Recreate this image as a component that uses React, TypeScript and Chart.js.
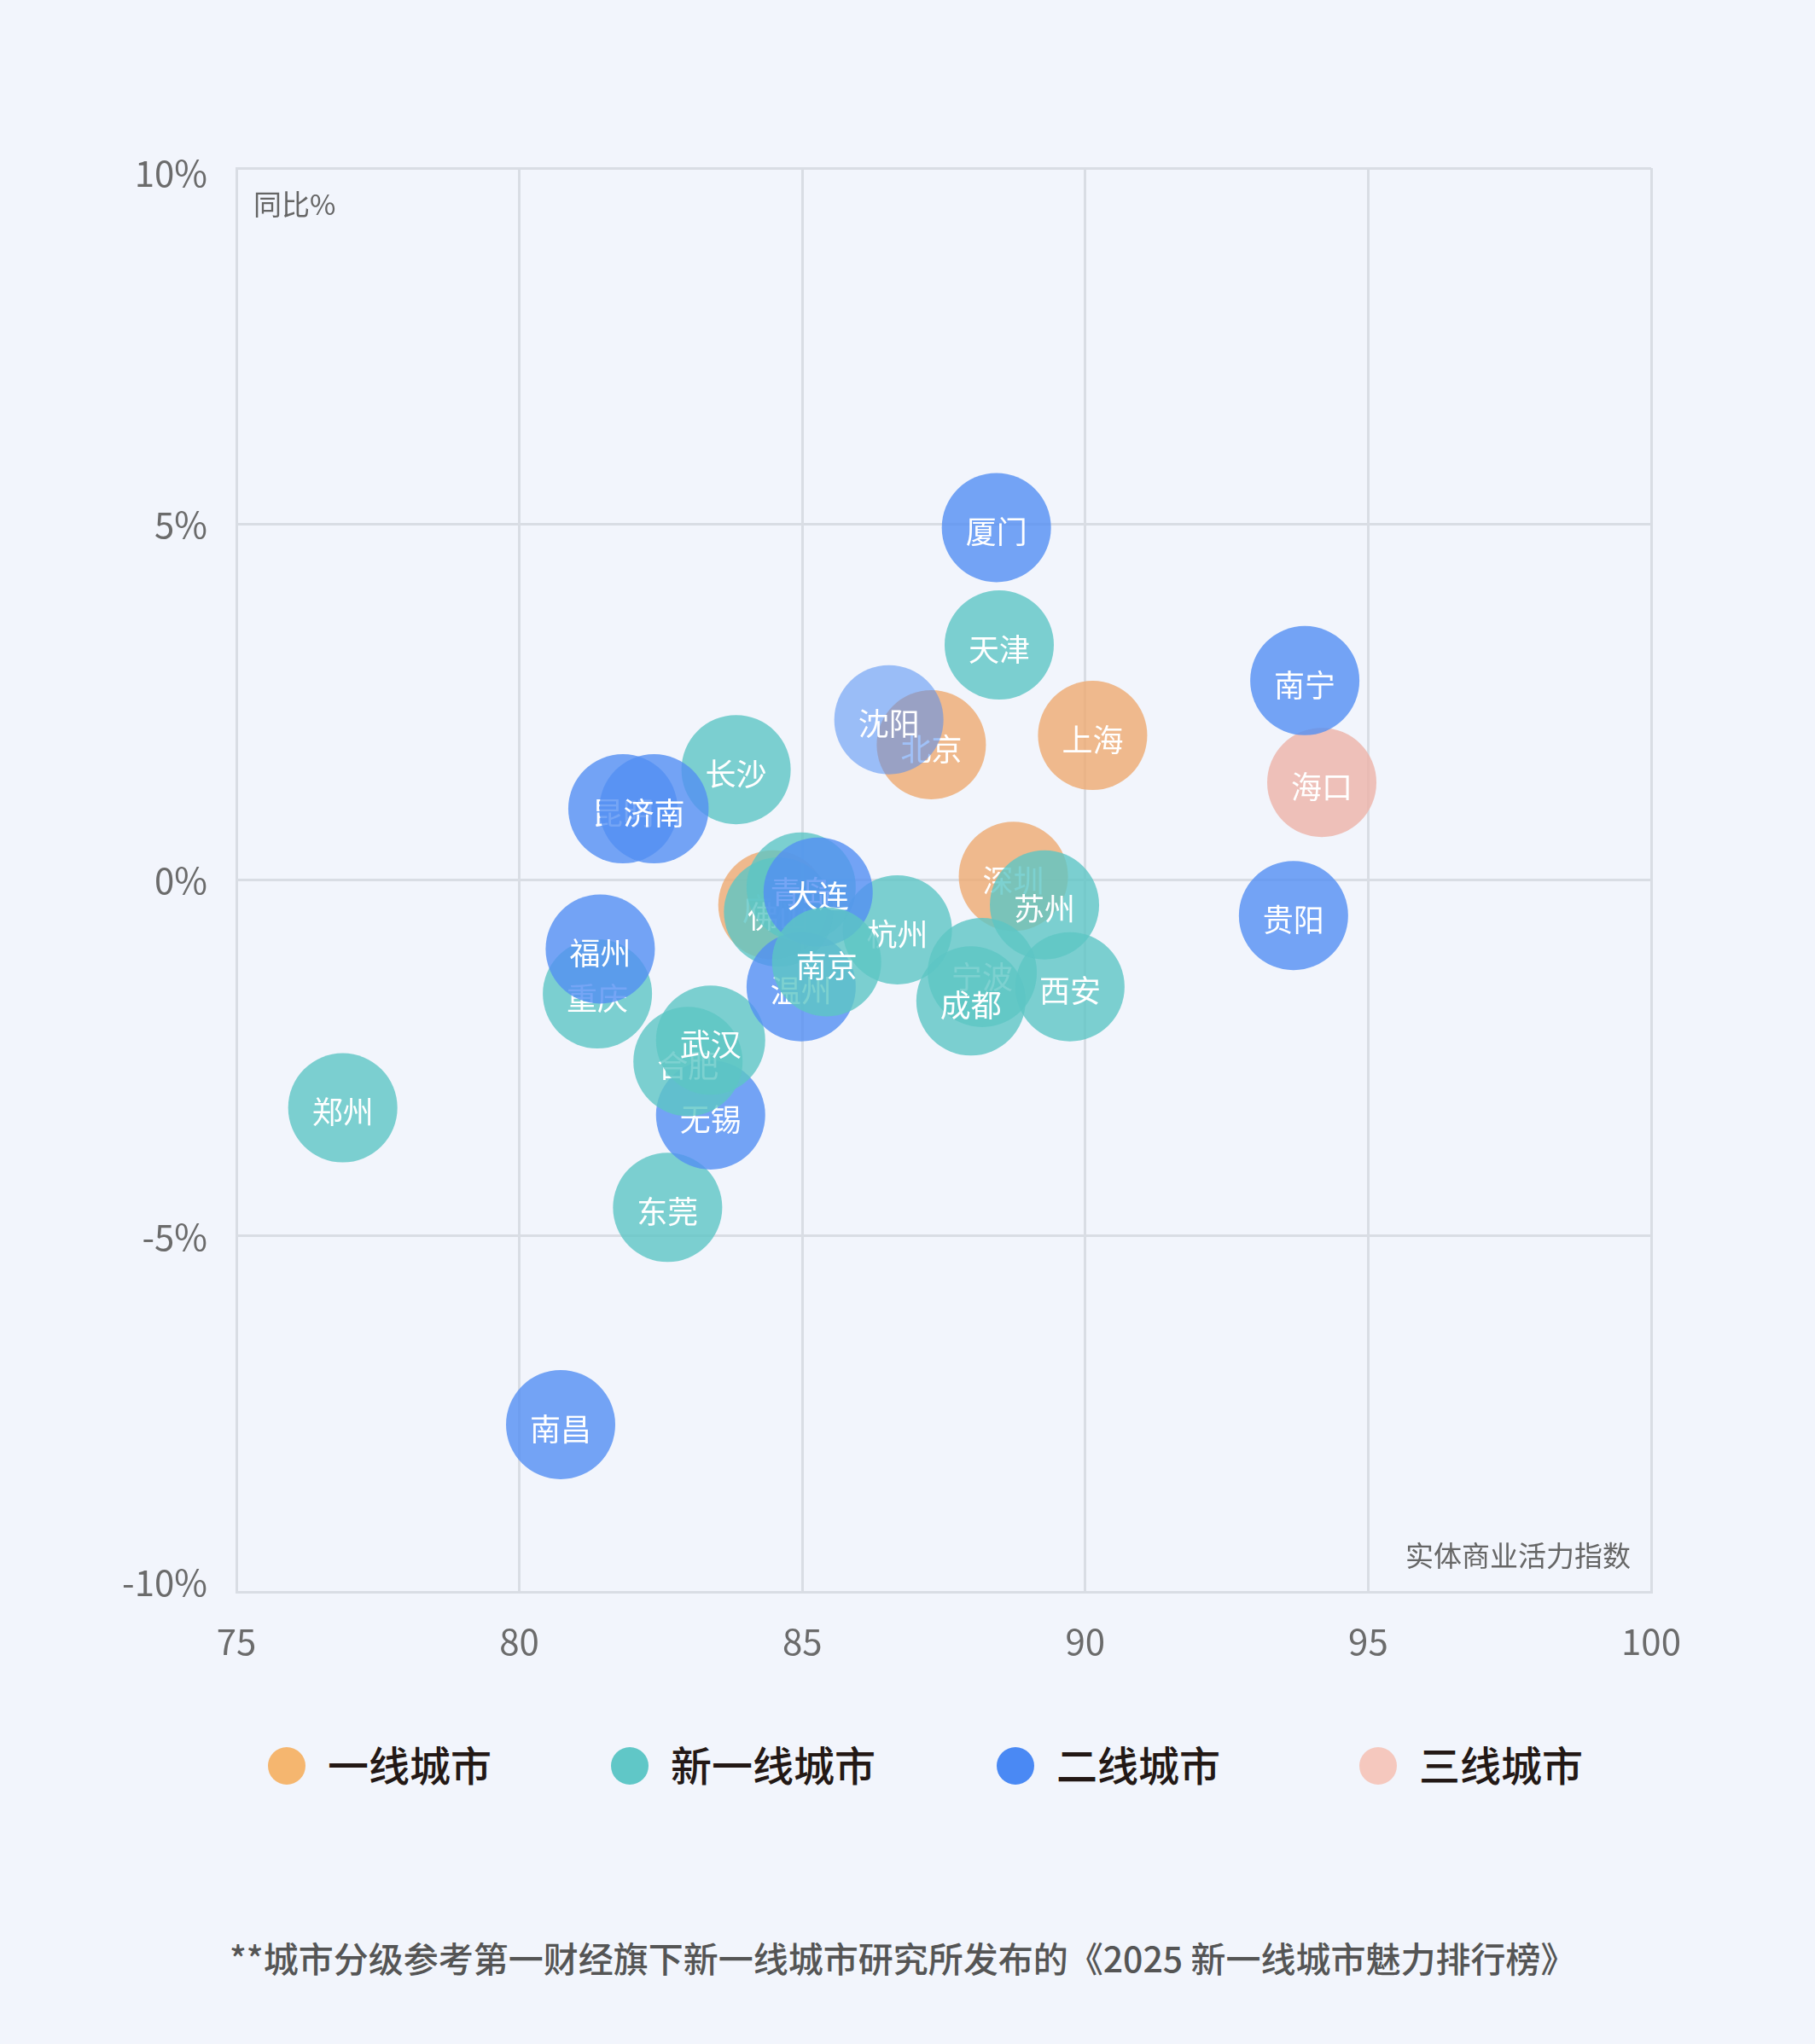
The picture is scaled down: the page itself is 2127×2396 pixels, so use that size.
import React, { useEffect, useRef } from "react";
import { Chart, registerables } from "chart.js";

Chart.register(...registerables);

// ---- data (draw order: bottom first) ----
const cities = [
  "郑州", "南昌", "东莞", "无锡", "合肥", "武汉", "重庆", "福州", "长沙", "昆明",
  "济南", "北京", "沈阳", "上海", "天津", "厦门", "海口", "南宁", "贵阳", "深圳",
  "宁波", "成都", "苏州", "西安", "广州", "佛山", "青岛", "杭州", "温州", "大连", "南京",
];
const xValues = [
  76.88, 80.73, 82.62, 83.38, 82.98, 83.38, 81.38, 81.43, 83.83, 81.83,
  82.38, 87.28, 86.53, 90.13, 88.48, 88.43, 94.18, 93.88, 93.68, 88.73,
  88.18, 87.98, 89.28, 89.73, 84.48, 84.58, 84.98, 86.68, 84.98, 85.28, 85.43,
];
const yValues = [
  -3.2, -7.65, -4.6, -3.3, -2.55, -2.25, -1.6, -0.97, 1.55, 1.0,
  1.0, 1.9, 2.25, 2.03, 3.3, 4.95, 1.37, 2.8, -0.5, 0.05,
  -1.3, -1.7, -0.35, -1.5, -0.35, -0.45, -0.1, -0.7, -1.5, -0.17, -1.15,
];
// 0 一线, 1 新一线, 2 二线, 3 三线
const tiers = [
  1, 2, 1, 2, 1, 1, 1, 2, 1, 2,
  2, 0, 2, 0, 1, 2, 3, 2, 2, 0,
  1, 1, 1, 1, 0, 1, 1, 1, 2, 2, 1,
];
const tierNames = ["一线城市", "新一线城市", "二线城市", "三线城市"];
const xTicks = [75, 80, 85, 90, 95, 100];
const yTicks = [-10, -5, 0, 5, 10];
const yTitle = "同比%";
const xTitle = "实体商业活力指数";
const footnote = "**城市分级参考第一财经旗下新一线城市研究所发布的《2025 新一线城市魅力排行榜》";

// ---- styles ----
const FONT = '"Noto Sans CJK SC", "Noto Sans", sans-serif';
const BG = "#f2f5fc";
const GRID = "#d9dde4";
const TICK_COLOR = "#6b6b6b";
const bubbleColors = [
  "rgba(238,170,112,0.8)",
  "rgba(92,198,196,0.8)",
  "rgba(82,142,243,0.8)",
  "rgba(236,179,167,0.8)",
];
const lightBubble = "rgba(82,142,243,0.55)";
const lightCities = ["沈阳"];
const legendColors = ["#f5b66f", "#60c7c7", "#4a89f4", "#f5c8be"];

const labelPlugin = {
  id: "cityLabels",
  afterDatasetDraw(chart: any, args: any) {
    const ds = chart.data.datasets[args.index];
    const meta = args.meta;
    const ctx = chart.ctx;
    ctx.save();
    ctx.font = `36px ${FONT}`;
    ctx.fillStyle = "#ffffff";
    ctx.textAlign = "center";
    ctx.textBaseline = "middle";
    meta.data.forEach((el: any) => {
      ctx.fillText(ds.label, el.x, el.y + 5);
    });
    ctx.restore();
  },
  afterDraw(chart: any) {
    const { ctx, chartArea } = chart;
    const yScale = chart.scales.y;
    ctx.save();
    // y tick labels (extreme labels are inset like the original)
    ctx.font = `42px ${FONT}`;
    ctx.fillStyle = TICK_COLOR;
    ctx.textAlign = "right";
    ctx.textBaseline = "middle";
    yTicks.forEach((v) => {
      let p = yScale.getPixelForValue(v);
      if (v === yScale.max) p += 6;
      else if (v === yScale.min) p -= 11;
      else p += 1;
      ctx.fillText(`${v}%`, chartArea.left - 34, p);
    });
    // axis titles inside plot
    ctx.font = `33px ${FONT}`;
    ctx.fillStyle = "#666666";
    ctx.textAlign = "left";
    ctx.fillText(yTitle, chartArea.left + 20, chartArea.top + 42);
    ctx.textAlign = "right";
    ctx.fillText(xTitle, chartArea.right - 24, chartArea.bottom - 43);
    ctx.restore();
  },
};

export default function App() {
  const canvasRef = useRef<HTMLCanvasElement | null>(null);

  useEffect(() => {
    document.body.style.margin = "0";
    document.body.style.background = BG;
    const canvas = canvasRef.current;
    if (!canvas) return;
    const order = cities.map((_, i) => i).reverse(); // top-most first
    const datasets = order.map((i) => ({
      label: cities[i],
      data: [{ x: xValues[i], y: yValues[i] }],
      backgroundColor: lightCities.includes(cities[i]) ? lightBubble : bubbleColors[tiers[i]],
      borderWidth: 0,
      radius: 64,
      hoverRadius: 0,
      clip: false as any,
    }));
    const chart = new Chart(canvas, {
      type: "bubble",
      data: { datasets },
      options: {
        animation: false,
        responsive: false,
        devicePixelRatio: 1,
        events: [],
        layout: { padding: { top: 197, right: 192, bottom: 0, left: 0 } },
        plugins: { legend: { display: false }, tooltip: { enabled: false } },
        scales: {
          x: {
            type: "linear",
            min: 75,
            max: 100,
            afterBuildTicks: (s: any) => {
              s.ticks = xTicks.map((v) => ({ value: v }));
            },
            afterFit: (s: any) => {
              s.height = 134;
            },
            ticks: {
              font: { size: 42, family: FONT },
              color: TICK_COLOR,
              padding: 33,
              maxRotation: 0,
            },
            grid: { color: GRID, lineWidth: 3, drawTicks: false },
            border: { color: GRID, width: 3 },
          },
          y: {
            type: "linear",
            min: -10,
            max: 10,
            afterBuildTicks: (s: any) => {
              s.ticks = yTicks.map((v) => ({ value: v }));
            },
            afterFit: (s: any) => {
              s.width = 277;
            },
            ticks: { display: false },
            grid: { color: GRID, lineWidth: 3, drawTicks: false },
            border: { color: GRID, width: 3 },
          },
        },
      },
      plugins: [labelPlugin],
    } as any);
    return () => chart.destroy();
  }, []);

  const legendX = [336, 738, 1190, 1615];

  return (
    <div
      style={{
        position: "relative",
        width: 2127,
        height: 2396,
        background: BG,
        overflow: "hidden",
        fontFamily: FONT,
      }}
    >
      <canvas
        ref={canvasRef}
        width={2127}
        height={2000}
        style={{ position: "absolute", left: 0, top: 0, width: 2127, height: 2000 }}
      />
      {tierNames.map((name, i) => (
        <div
          key={name}
          style={{
            position: "absolute",
            left: legendX[i] - 22,
            top: 2070 - 35,
            height: 70,
            display: "flex",
            alignItems: "center",
            whiteSpace: "nowrap",
          }}
        >
          <span
            style={{
              display: "inline-block",
              width: 44,
              height: 44,
              borderRadius: "50%",
              background: legendColors[i],
              marginRight: 26,
            }}
          />
          <span
            style={{
              fontSize: 48,
              fontWeight: 500,
              color: "#231815",
              lineHeight: "70px",
              position: "relative",
              top: -3,
            }}
          >
            {name}
          </span>
        </div>
      ))}
      <div
        style={{
          position: "absolute",
          left: 269,
          top: 2295 - 31,
          height: 60,
          lineHeight: "60px",
          fontSize: 41,
          fontWeight: 500,
          color: "#555555",
          whiteSpace: "nowrap",
        }}
      >
        {footnote}
      </div>
    </div>
  );
}
